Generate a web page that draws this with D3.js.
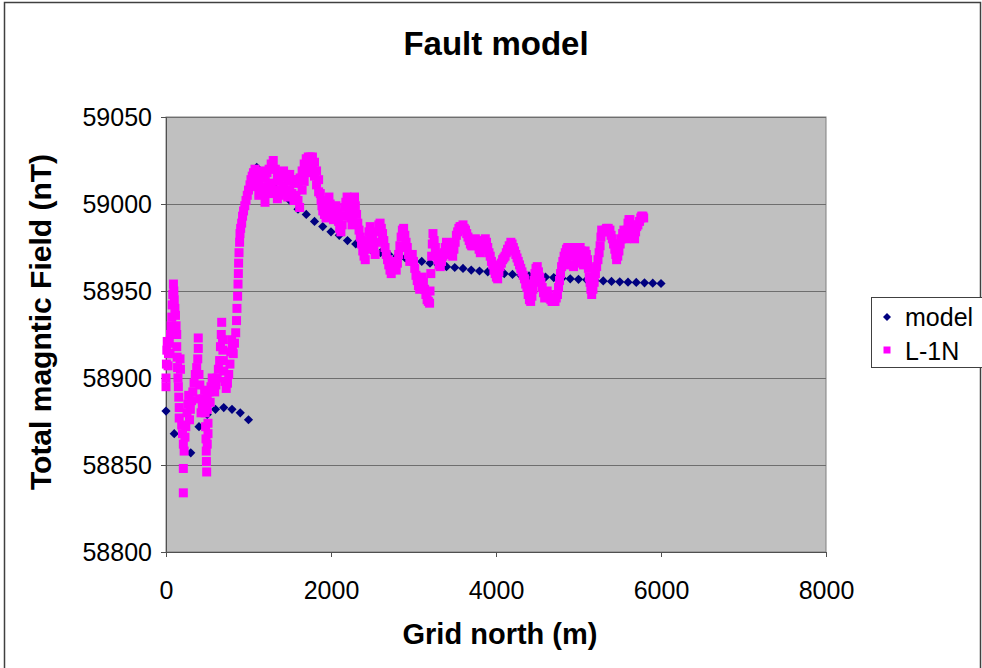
<!DOCTYPE html>
<html>
<head>
<meta charset="utf-8">
<script src="https://cdn.jsdelivr.net/npm/d3@7"></script>
<style>
  body { margin: 0; background: #fff; }
  svg { display: block; }
</style>
</head>
<body>
<div id="chart"></div>
<script>
const xTicks = [0, 2000, 4000, 6000, 8000]
const yTicks = [58800, 58850, 58900, 58950, 59000, 59050]

const seriesNames = ["model", "L-1N"]

// model: grid north (m) and field (nT)
const modelX = [0, 100, 300, 400, 500, 600, 700, 800, 900, 1000,
    1100, 1200, 1300, 1400, 1500, 1600, 1700, 1800, 1900, 2000,
    2100, 2200, 2300, 2400, 2500, 2600, 2700, 2800, 2900, 3000,
    3100, 3200, 3300, 3400, 3500, 3600, 3700, 3800, 3900, 4000,
    4100, 4200, 4300, 4400, 4500, 4600, 4700, 4800, 4900, 5000,
    5100, 5200, 5300, 5400, 5500, 5600, 5700, 5800, 5900, 6000]
const modelY = [58881, 58868, 58857, 58872, 58879, 58882, 58883, 58882, 58880, 58876,
    59021, 59015, 59010, 59006, 59002, 58997, 58994, 58990, 58987, 58984,
    58982, 58979, 58977, 58975, 58973, 58972, 58971, 58970, 58969, 58968,
    58967, 58966, 58965, 58964, 58963.5, 58963, 58962, 58961.5, 58961, 58960.5,
    58960, 58959.5, 58959, 58958.7, 58958.4, 58958, 58957.7, 58957.3, 58957, 58956.7,
    58956.4, 58956.1, 58955.8, 58955.5, 58955.3, 58955.1, 58954.9, 58954.7, 58954.5, 58954.3]

// L-1N survey line: [grid north (m), field (nT)]
const lineData = [
    [0,58895],[0,58900],[5,58908],[10,58916],[15,58921],[25,58907],[30,58914],[40,58920],[48,58914],
    [55,58925],[62,58930],[70,58935],[75,58942],[82,58948],[90,58954],[95,58950],[100,58945],[108,58940],
    [115,58936],[122,58930],[130,58925],[130,58918],[135,58912],[140,58906],[145,58900],[150,58895],
    [155,58889],[160,58883],[160,58877],[170,58911],[175,58905],[190,58873],[200,58868],[210,58862],
    [220,58858],[230,58866],[210,58848],[210,58834],[240,58872],[255,58880],[265,58885],[275,58890],
    [285,58876],[295,58882],[310,58887],[325,58892],[340,58897],[355,58902],[372,58906],[385,58911],
    [391,58917],[391,58923],[400,58902],[410,58896],[415,58888],[425,58880],[440,58884],[455,58888],
    [468,58893],[475,58880],[480,58872],[485,58865],[488,58858],[490,58852],[493,58846],[500,58862],
    [509,58868],[509,58874],[500,58882],[500,58889],[520,58892],[535,58886],[545,58895],[560,58900],
    [575,58898],[590,58892],[605,58896],[620,58900],[635,58905],[650,58910],[660,58918],[670,58925],
    [675,58932],[685,58922],[690,58916],[695,58910],[700,58904],[715,58898],[730,58894],[745,58897],
    [760,58902],[775,58908],[785,58915],[795,58922],[805,58918],[815,58914],[830,58920],[845,58926],
    [855,58933],[860,58940],[868,58947],[873,58954],[877,58960],[880,58966],[885,58972],[892,58978],
    [897,58983],[905,58986],[917,58989],[928,58993],[940,58996],[955,58999],[970,59002],[985,59005],
    [1000,59008],[1018,59011],[1030,59014],[1045,59016],[1060,59018],[1079,59020],
    [1100,59018],[1125,59014],[1150,59016],[1175,59019],[1200,59015],[1225,59018],[1250,59020],[1275,59023],
    [1300,59025],[1325,59020],[1350,59016],[1375,59013],[1400,59016],[1425,59019],[1450,59017],[1475,59013],
    [1500,59017],[1525,59014],[1550,59012],[1575,59014],[1600,59012],[1625,59015],[1650,59019],[1675,59023],
    [1700,59026],[1725,59027],[1750,59027],[1775,59027],[1800,59024],[1825,59019],[1850,59014],
    [1100,59010],[1125,59005],[1150,59008],[1175,59010],[1200,59001],[1225,59006],[1250,59010],[1275,59012],
    [1300,59008],[1325,59006],[1350,59003],[1375,59005],[1400,59008],[1425,59010],[1450,59007],[1475,59004],
    [1500,59008],[1525,59006],[1550,59002],[1575,59005],[1600,59002],[1620,58998],[1650,59008],[1675,59013],
    [1700,59018],[1725,59021],[1750,59022],[1775,59020],[1800,59016],[1825,59011],[1850,59007],
    [1870,59006],[1880,59002],[1890,58999],[1900,58996],[1920,58994],[1940,58992],[1955,58996],[1965,59001],
    [1975,59004],[1990,59000],[2000,58996],[2015,58993],[2030,58991],[2045,58995],[2060,58999],[2075,58995],
    [2090,58990],[2105,58986],[2120,58984],[2135,58988],[2150,58993],[2165,58998],[2180,59001],[2195,59004],
    [2210,59000],[2225,58996],[2240,58992],[2255,58988],[2265,58994],[2275,59000],[2285,59004],[2295,58999],
    [2310,58994],[2325,58989],[2340,58985],[2355,58981],[2370,58977],[2385,58973],[2400,58970],[2415,58968],
    [2430,58974],[2445,58979],[2460,58984],[2475,58987],[2490,58983],[2505,58979],[2520,58975],[2535,58971],
    [2550,58978],[2565,58984],[2580,58988],[2595,58989],[2610,58986],[2625,58983],[2640,58979],[2655,58975],
    [2670,58971],[2685,58968],[2700,58965],[2715,58962],[2730,58960],[2745,58963],[2760,58967],[2775,58965],
    [2790,58962],[2805,58966],[2820,58971],[2835,58976],[2850,58981],[2865,58985],[2880,58986],[2895,58982],
    [2910,58978],[2925,58975],[2940,58971],[2955,58967],[2970,58969],[2985,58971],[3000,58967],[3015,58963],
    [3030,58959],[3045,58956],[3060,58953],[3075,58951],[3090,58955],[3105,58958],[3120,58955],[3135,58951],
    [3150,58948],[3165,58945],[3180,58944],[3195,58943],[3200,58950],[3210,58960],[3220,58970],[3228,58977],
    [3236,58983],[3250,58979],[3265,58975],[3280,58971],[3295,58968],[3310,58965],[3325,58964],[3340,58967],
    [3355,58970],[3370,58972],[3385,58975],[3400,58978],[3415,58977],[3430,58975],[3445,58974],[3460,58971],
    [3475,58970],[3490,58974],[3505,58978],[3520,58982],[3535,58984],[3550,58986],[3565,58987],[3580,58987],
    [3600,58988],[3615,58986],[3630,58985],[3645,58983],[3660,58981],[3675,58979],[3690,58977],[3705,58976],
    [3720,58976],[3735,58978],[3750,58980],[3765,58979],[3780,58977],[3795,58974],[3810,58972],[3825,58974],
    [3840,58976],[3855,58979],[3870,58980],[3885,58978],[3900,58975],[3915,58972],[3930,58970],[3945,58967],
    [3960,58965],[3975,58962],[3990,58960],[4005,58958],[4020,58957],[4035,58961],[4048,58964],[4065,58966],
    [4080,58968],[4095,58969],[4110,58970],[4125,58972],[4140,58974],[4160,58976],[4180,58978],[4195,58977],
    [4210,58975],[4225,58973],[4240,58971],[4255,58969],[4270,58967],[4285,58965],[4300,58963],[4315,58961],
    [4330,58959],[4345,58957],[4360,58954],[4375,58952],[4390,58948],[4405,58945],[4420,58944],[4435,58947],
    [4448,58951],[4460,58956],[4472,58960],[4485,58963],[4500,58964],[4515,58961],[4530,58958],[4545,58955],
    [4560,58952],[4575,58949],[4590,58946],[4605,58948],[4620,58950],[4635,58948],[4650,58946],[4665,58945],
    [4680,58944],[4700,58944],[4715,58944],[4730,58946],[4745,58948],[4758,58952],[4770,58956],[4782,58960],
    [4795,58964],[4810,58967],[4825,58970],[4840,58972],[4855,58974],[4870,58975],[4885,58974],[4900,58972],
    [4915,58971],[4930,58970],[4945,58973],[4960,58975],[4975,58973],[4990,58972],[5005,58974],[5020,58975],
    [5035,58973],[5050,58970],[5065,58972],[5080,58973],[5095,58971],[5110,58968],[5120,58963],[5130,58958],
    [5140,58955],[5150,58951],[5160,58948],[5175,58951],[5190,58955],[5205,58960],[5220,58964],[5236,58968],
    [5250,58972],[5262,58976],[5272,58981],[5281,58985],[5295,58984],[5310,58984],[5325,58985],[5340,58986],
    [5360,58986],[5381,58985],[5395,58982],[5410,58980],[5425,58977],[5440,58974],[5452,58971],[5462,58968],
    [5476,58970],[5490,58973],[5505,58977],[5520,58980],[5535,58983],[5550,58985],[5565,58982],[5578,58980],
    [5590,58985],[5600,58989],[5612,58991],[5624,58991],[5637,58988],[5650,58985],[5665,58982],[5680,58980],
    [5692,58984],[5705,58987],[5720,58988],[5740,58990],[5755,58992],[5766,58993],[5780,58993],[5790,58992],
    [4860,58966],[4900,58965],[4940,58964],[4980,58966],[5020,58967],[5060,58965]
]

const width = 982, height = 668
const plot = { left: 166, right: 826, top: 117, bottom: 552 }
const font = "'Liberation Sans', Arial, sans-serif"
const modelColor = "#000080"
const lineColor = "#ff00ff"

const svg = d3.select("#chart").append("svg")
    .attr("width", width)
    .attr("height", height)

// chart border
svg.append("rect")
    .attr("x", 4.5).attr("y", 2.5)
    .attr("width", 976).attr("height", 690)
    .attr("fill", "#fff")
    .attr("stroke", "#404040")
    .attr("stroke-width", 1.5)

const x = d3.scaleLinear().domain([0, 8000]).range([plot.left, plot.right])
const y = d3.scaleLinear().domain([58800, 59050]).range([plot.bottom, plot.top])

// plot area
svg.append("rect")
    .attr("x", plot.left).attr("y", plot.top)
    .attr("width", plot.right - plot.left).attr("height", plot.bottom - plot.top)
    .attr("fill", "#c0c0c0")
    .attr("stroke", "#808080")
    .attr("stroke-width", 1)

svg.append("g")
    .selectAll("line")
    .data(yTicks)
    .join("line")
    .attr("x1", plot.left).attr("x2", plot.right)
    .attr("y1", d => Math.round(y(d)) + 0.5).attr("y2", d => Math.round(y(d)) + 0.5)
    .attr("stroke", "#6e6e6e")
    .attr("stroke-width", 1)

const xAxis = svg.append("g")
    .attr("transform", `translate(0,${plot.bottom})`)
    .call(d3.axisBottom(x).tickValues(xTicks).tickSize(5).tickPadding(24).tickFormat(d3.format("d")))
const yAxis = svg.append("g")
    .attr("transform", `translate(${plot.left},0)`)
    .call(d3.axisLeft(y).tickValues(yTicks).tickSize(5).tickPadding(9).tickFormat(d3.format("d")))

for (const ax of [xAxis, yAxis]) {
    ax.select(".domain").attr("stroke", "#505050")
    ax.selectAll(".tick line").attr("stroke", "#505050")
    ax.selectAll(".tick text")
        .attr("font-family", font)
        .attr("font-size", 25)
        .attr("fill", "#000")
}

// markers: model first, survey line on top
const diamond = (cx, cy, r) => `M${cx},${cy - r}L${cx + r},${cy}L${cx},${cy + r}L${cx - r},${cy}Z`

svg.append("g")
    .selectAll("path")
    .data(d3.range(modelX.length))
    .join("path")
    .attr("d", i => diamond(x(modelX[i]), y(modelY[i]), 4.6))
    .attr("fill", modelColor)

svg.append("g")
    .selectAll("rect")
    .data(lineData)
    .join("rect")
    .attr("x", d => x(d[0]) - 4.5)
    .attr("y", d => y(d[1]) - 4.5)
    .attr("width", 9)
    .attr("height", 9)
    .attr("fill", lineColor)

// titles
svg.append("text")
    .attr("x", 496).attr("y", 55)
    .attr("text-anchor", "middle")
    .attr("font-family", font).attr("font-size", 33).attr("font-weight", "bold")
    .text("Fault model")

svg.append("text")
    .attr("x", 500).attr("y", 644)
    .attr("text-anchor", "middle")
    .attr("font-family", font).attr("font-size", 29).attr("font-weight", "bold")
    .text("Grid north (m)")

svg.append("text")
    .attr("transform", "translate(51,322) rotate(-90)")
    .attr("text-anchor", "middle")
    .attr("font-family", font).attr("font-size", 30).attr("font-weight", "bold")
    .text("Total magntic Field (nT)")

// legend
const legend = svg.append("g")
legend.append("rect")
    .attr("x", 871.5).attr("y", 297.5)
    .attr("width", 130).attr("height", 70)
    .attr("fill", "#fff")
    .attr("stroke", "#404040")
    .attr("stroke-width", 1)

legend.append("path")
    .attr("d", diamond(887, 317, 4))
    .attr("fill", modelColor)
legend.append("rect")
    .attr("x", 883.5).attr("y", 346.5)
    .attr("width", 7).attr("height", 7)
    .attr("fill", lineColor)

legend.selectAll(".legend-label")
    .data(seriesNames)
    .join("text")
    .attr("class", "legend-label")
    .attr("x", 905)
    .attr("y", (d, i) => 326 + i * 34)
    .attr("font-family", font).attr("font-size", 25)
    .text(d => d)
</script>
</body>
</html>
